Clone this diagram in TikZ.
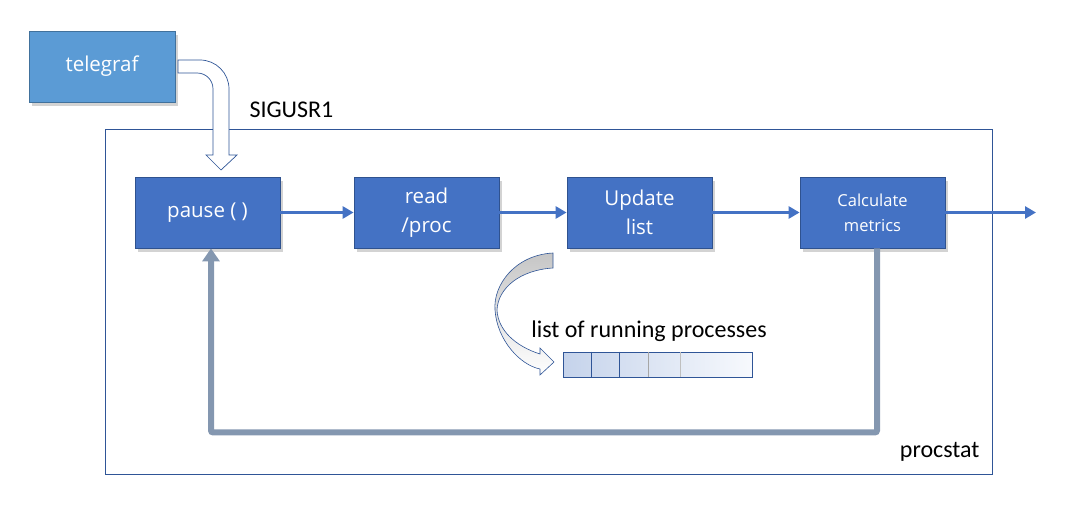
\documentclass[tikz,border=0pt]{standalone}
\usepackage{fontspec}
\setmainfont{Carlito}
\newfontfamily\boxfont{Open Sans}
\usetikzlibrary{arrows.meta,shadows}

\definecolor{procblue}{HTML}{4472C4}
\definecolor{procedge}{HTML}{2F528F}
\definecolor{srcblue}{HTML}{5B9BD5}
\definecolor{srcedge}{HTML}{41719C}
\definecolor{frameblue}{HTML}{2F5597}
\definecolor{loopgray}{HTML}{8497B0}
\definecolor{listblue}{HTML}{C5D3EB}
\definecolor{listwhite}{HTML}{F7F9FD}

\begin{document}
\begin{tikzpicture}[x=1pt, y=-1pt, node distance=219pt, every node/.style={align=center}, >={Triangle[width=12pt,length=11pt]}]
    % 样式定义
    \tikzstyle{process} = [rectangle, draw=procedge, fill=procblue, text=white, line width=0.8pt, minimum width=145pt, minimum height=71pt, font=\boxfont\fontsize{20.5}{29}\selectfont, drop shadow={opacity=0.35, shadow xshift=3pt, shadow yshift=-4pt}]
    \tikzstyle{source} = [process, draw=srcedge, fill=srcblue, minimum width=146pt]
    \tikzstyle{frame} = [rectangle, draw=frameblue, line width=0.7pt, minimum width=887pt, minimum height=345pt]
    \tikzstyle{caption} = [font=\fontsize{24}{28}\selectfont, text=black]
    \tikzstyle{arrow} = [draw=procblue, line width=3pt, ->]
    \tikzstyle{loop} = [draw=loopgray, line width=6pt, rounded corners=2pt, -{Triangle[width=17pt,length=13pt]}]

    \useasboundingbox (0,0) rectangle (1083,521);

    % 节点定义
    \node[frame] (procstat) at (548.5,301.5) {};
    \node[source] (telegraf) at (102,66.5) {telegraf};

    \node[process] (pause) at (207.5,212.5) {pause ( )};
    \node[process, right of=pause] (read) {read\\/proc};
    \node[process, right of=read, xshift=-6pt] (update) {Update\\list};
    \node[process, right of=update, xshift=14pt, font=\boxfont\fontsize{16.5}{25}\selectfont] (calc) {Calculate\\metrics};
    \coordinate (out) at (1036,212.5);

    \node[caption, anchor=west] (signal) at (246,110) {SIGUSR1};
    \node[caption, anchor=east] (proclabel) at (983,452) {procstat};
    \node[caption] (listlabel) at (649,331) {list of running processes};
    \node[rectangle, draw=frameblue, line width=0.7pt, left color=listblue, right color=listwhite, minimum width=189pt, minimum height=25pt, inner sep=0pt] (list) at (657.5,364.5) {};

    % 列表分隔
    \foreach \x/\c in {29/frameblue, 57/frameblue, 86/gray!70, 118/gray!50}
        \draw[\c, line width=0.7pt] ([xshift=\x pt]list.north west) -- ([xshift=\x pt]list.south west);

    % 信号箭头
    \draw[frameblue, fill=white, line width=0.7pt] (178,60) -- (200,60) .. controls (216,60) and (229,73) .. (229,89) -- (229,155) -- (237,155) -- (221,170) -- (206,155) -- (213,155) -- (213,89) .. controls (213,80) and (206,73) .. (197,73) -- (178,73) -- cycle;

    % 列表箭头
    \draw[frameblue, line width=0.6pt, top color=gray!45, bottom color=white] (553,253) .. controls (515,255) and (493,285) .. (495,310) .. controls (497,340) and (520,365) .. (540,369) -- (540,375) -- (554,362) -- (540,348) -- (540,354) .. controls (515,346) and (498,330) .. (497,310) .. controls (498,288) and (520,270) .. (553,268) -- cycle;

    % 箭头连接
    \draw[arrow] (pause) -- (read);
    \draw[arrow] (read) -- (update);
    \draw[arrow] (update) -- (calc);
    \draw[arrow] (calc) -- (out);

    \draw[loop] ([xshift=4.5pt]calc.south) -- ++(0,184) -| ([xshift=3.5pt]pause.south);
\end{tikzpicture}
\end{document}
